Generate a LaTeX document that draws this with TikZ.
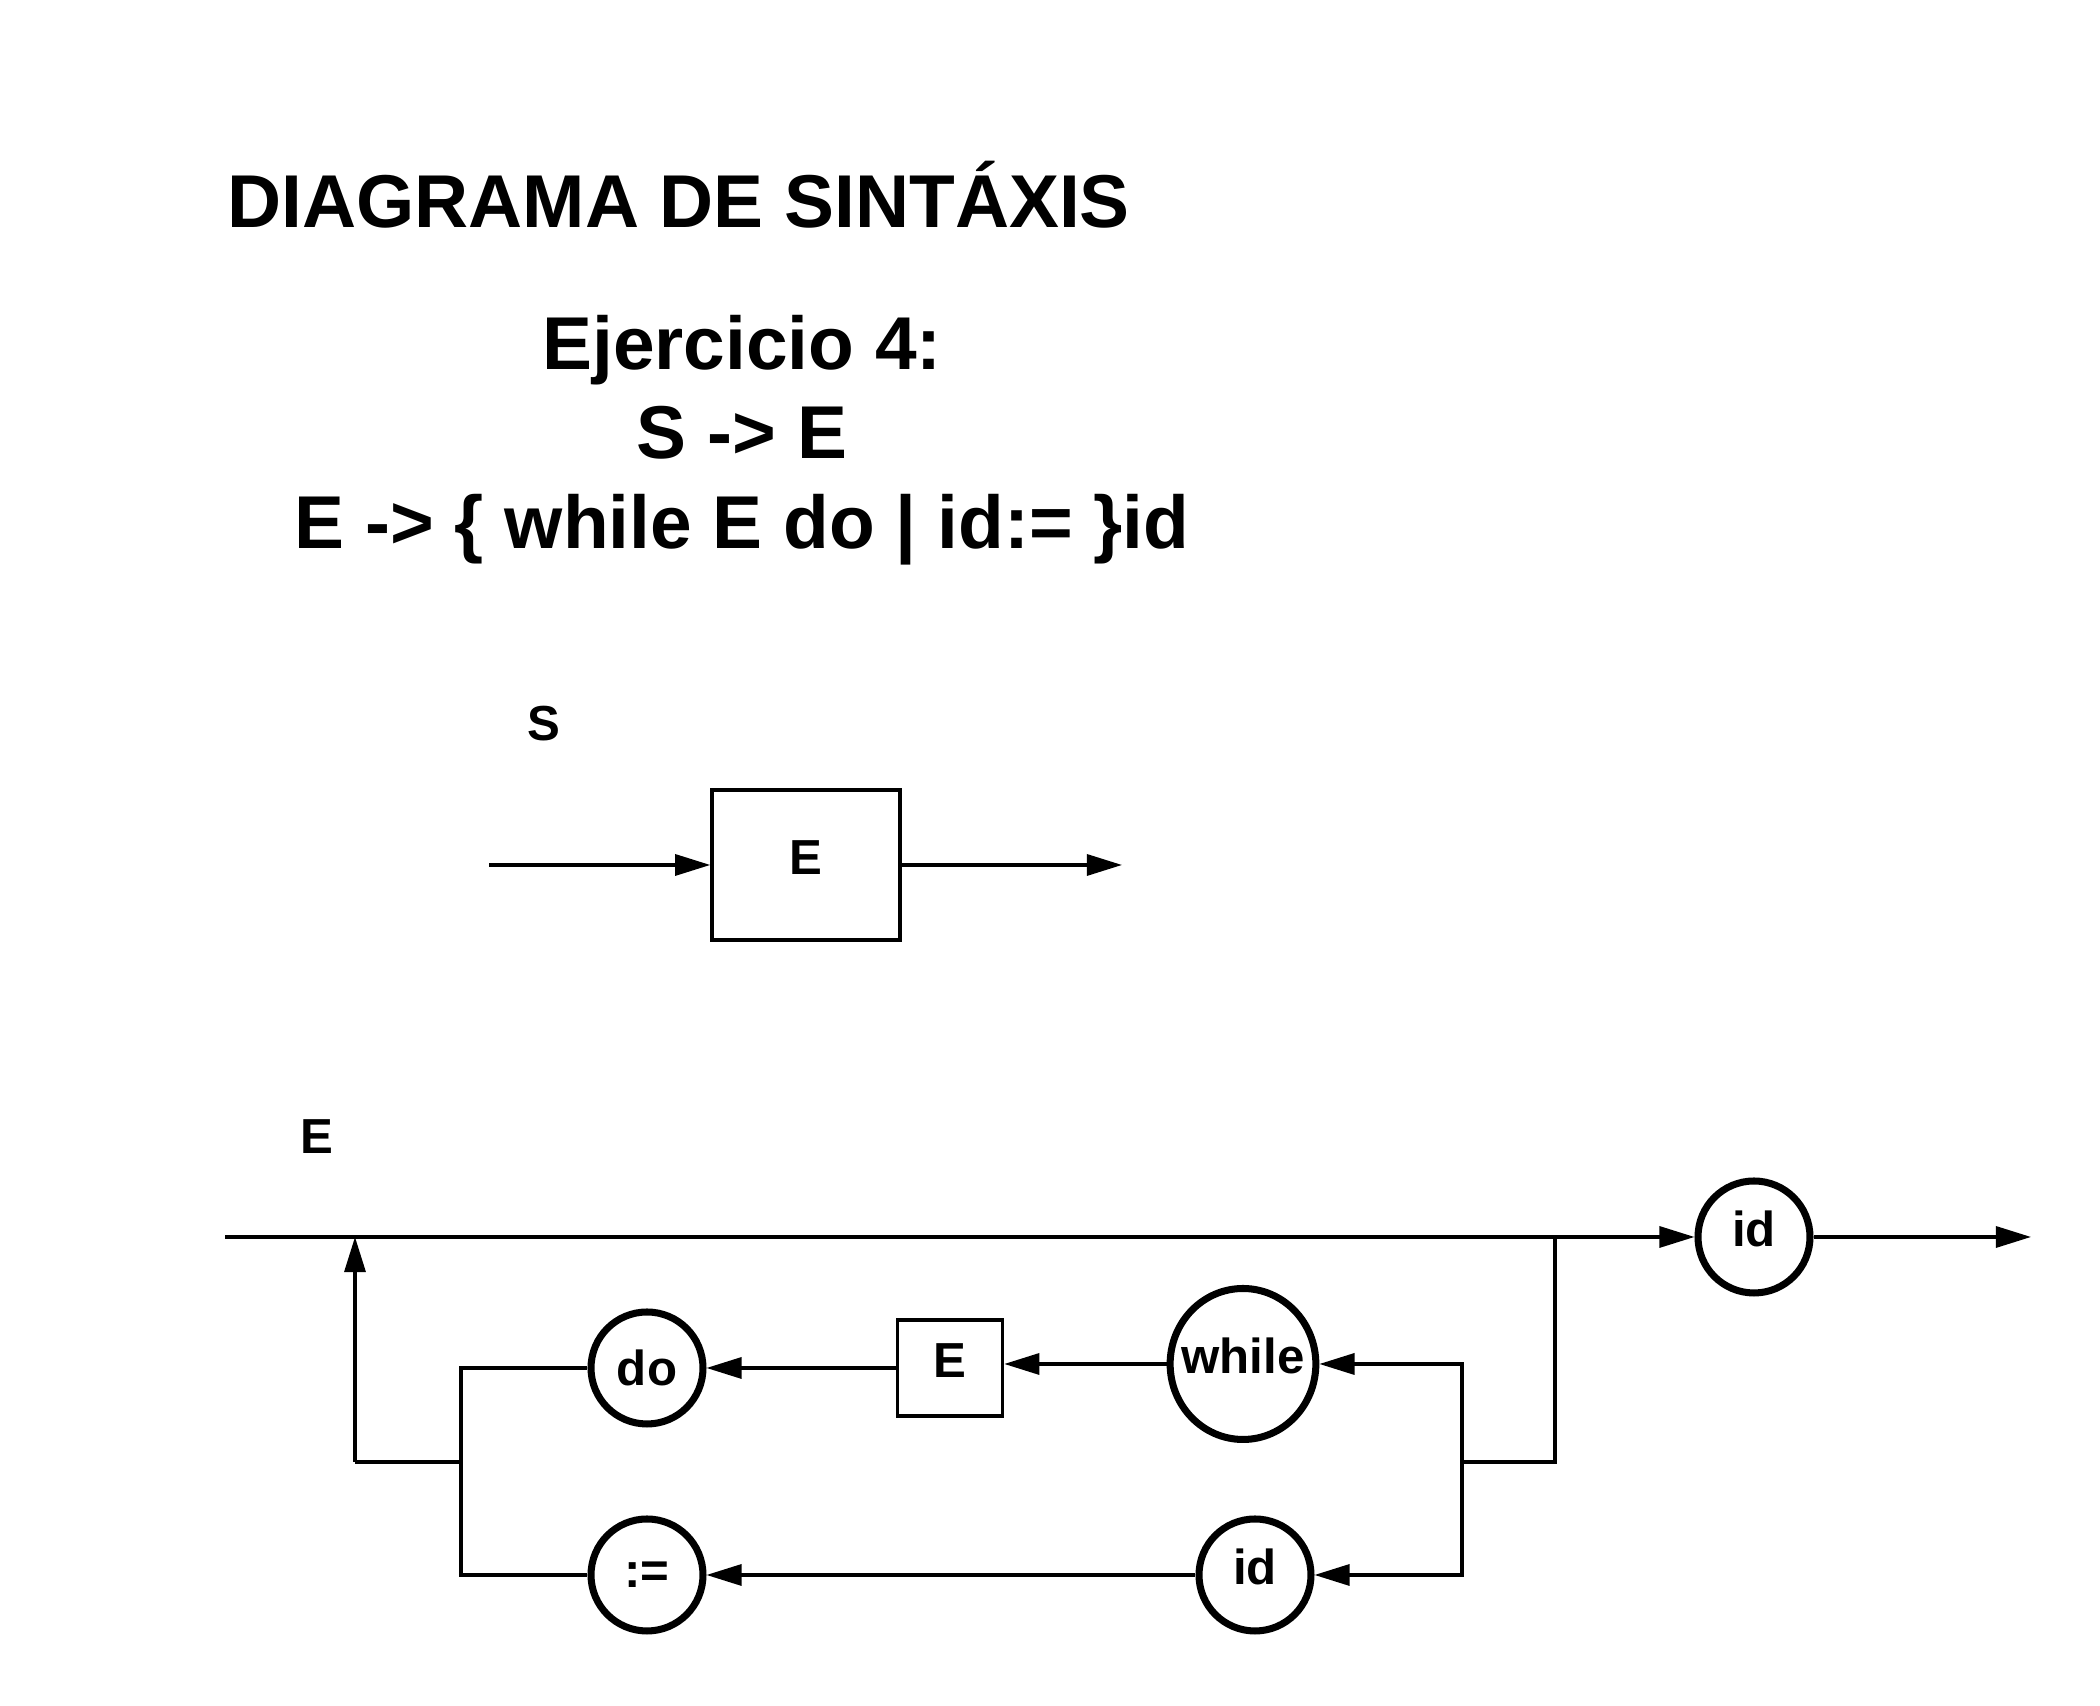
\documentclass[tikz,border=0pt]{standalone}
\usepackage{fontspec}
\setmainfont{Liberation Sans}
\usetikzlibrary{arrows.meta,shapes.geometric}

\begin{document}
\begin{tikzpicture}[
    flow/.style={line width=0.9pt},
    arr/.style={flow, -{Triangle[length=10pt,width=6pt]}},
    term/.style={draw, ellipse, line width=2pt, inner sep=0pt,
      minimum width=1.12cm, minimum height=1.12cm,
      font=\fontsize{14}{16}\selectfont\bfseries},
    nonterm/.style={draw, rectangle, line width=1pt, inner sep=0pt,
      font=\fontsize{14}{16}\selectfont\bfseries},
    raised/.style={text height=0.36cm, text depth=0.17cm},
    lbl/.style={font=\fontsize{14}{16}\selectfont\bfseries},
    heading/.style={font=\fontsize{21.3}{25}\selectfont\bfseries}
  ]
        \useasboundingbox (0,0) rectangle (21,17.06);

        % Headings
        \node[heading, anchor=base west] (title) at (2.15,14.78) {DIAGRAMA DE SINTÁXIS};
        \node[heading, anchor=base] (ej) at (7.42,13.36) {Ejercicio 4:};
        \node[heading, anchor=base] (rule1) at (7.42,12.47) {S -> E};
        \node[heading, anchor=base] (rule2) at (7.42,11.57) {E -> \{ while E do | id:= \}id};

        % Diagram for S
        \node[lbl] (labS) at (5.44,9.82) {S};
        \node[nonterm, raised, minimum width=1.88cm, minimum height=1.5cm] (boxE) at (8.06,8.41) {E};
        \coordinate (sin) at (4.89,8.41);
        \coordinate (sout) at (11.22,8.41);
        \draw[arr] (sin) -- (boxE);
        \draw[arr] (boxE) -- (sout);

        % Diagram for E
        \node[lbl] (labE) at (3.17,5.69) {E};
        \node[term, raised] (id1) at (17.54,4.69) {id};
        \node[term] (do) at (6.47,3.38) {do};
        \node[nonterm, raised, minimum width=1.05cm, minimum height=0.96cm] (Ebox) at (9.50,3.38) {E};
        \node[term, raised, inner xsep=-0.1cm, minimum width=1.38cm, minimum height=1.51cm] (while) at (12.43,3.42) {while};
        \node[term] (asig) at (6.47,1.31) {:=};
        \node[term, raised] (id2) at (12.55,1.31) {id};

        \coordinate (ein) at (2.25,4.69);
        \coordinate (eout) at (20.31,4.69);
        \coordinate (split) at (15.55,4.69);
        \coordinate (splitlow) at (15.55,2.44);
        \coordinate (fork) at (14.62,2.44);
        \coordinate (join) at (4.61,2.44);
        \coordinate (back) at (3.55,2.44);
        \coordinate (backtop) at (3.55,4.69);

        % main line
        \draw[arr] (ein) -- (id1);
        \draw[arr] (id1) -- (eout);

        % loop body, right to left
        \draw[flow] (split) -- (splitlow) -- (fork);
        \draw[arr] (fork) |- (while.east);
        \draw[arr] (fork) |- (id2.east);
        \draw[arr] (while.west) -- (Ebox.east |- while.west);
        \draw[arr] (Ebox) -- (do);
        \draw[arr] (id2) -- (asig);
        \draw[flow] (do.west) -| (join);
        \draw[flow] (asig.west) -| (join);
        \draw[flow] (join) -- (back);
        \draw[arr] (back) -- (backtop);
      \end{tikzpicture}
\end{document}
